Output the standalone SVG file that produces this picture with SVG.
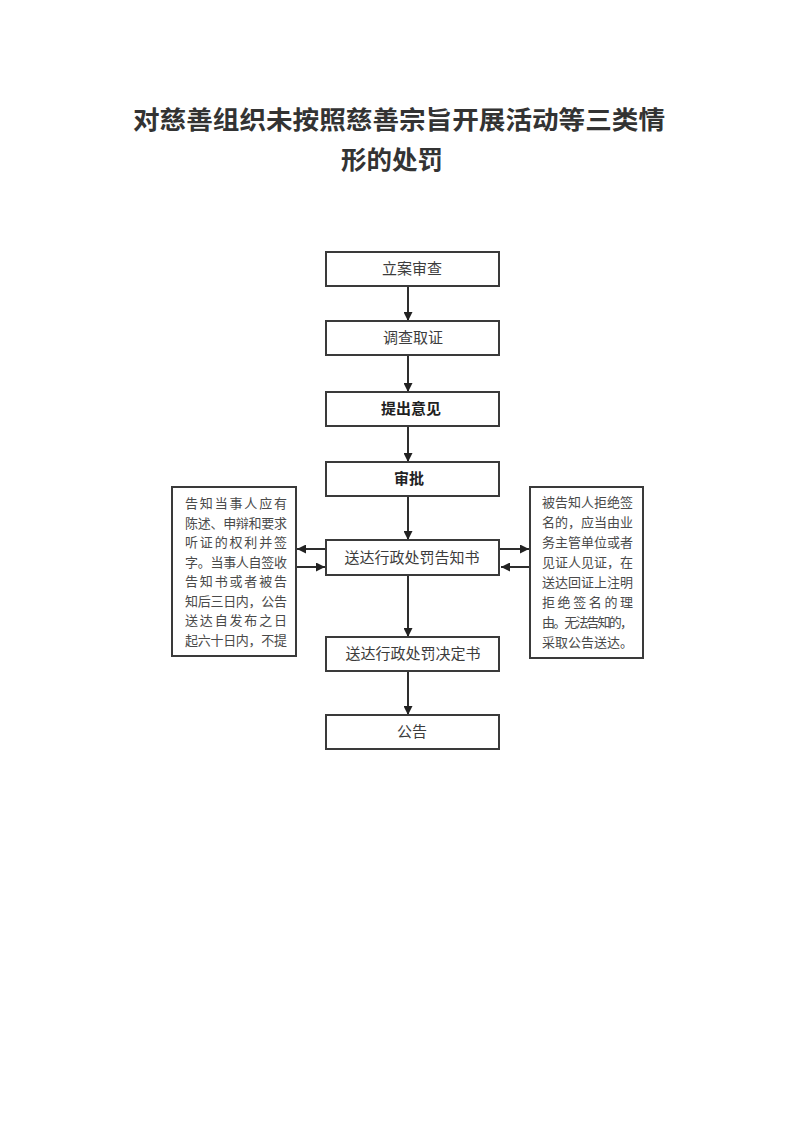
<svg xmlns="http://www.w3.org/2000/svg" width="793" height="1122" viewBox="0 0 793 1122">
<style>
.bg{fill:#ffffff}
.box{fill:#ffffff;stroke:#3a3a3a;stroke-width:2}
.ln{fill:none;stroke:#2e2e2e;stroke-width:2}
.t{font-family:"Noto Sans CJK SC","Noto Sans CJK JP",sans-serif;fill:#3c3c3c;text-anchor:middle}
.title{font-size:25.5px;font-weight:700;fill:#333333}
.m{font-size:15px}
.b{font-weight:700;fill:#222222}
.s{font-size:13px;fill:#4a4a4a}
</style>
<defs>
<marker id="ah" viewBox="0 0 10 10" refX="10" refY="5" markerWidth="9" markerHeight="9" markerUnits="userSpaceOnUse" orient="auto">
<path d="M0,0 L10,5 L0,10 z" fill="#222222"/>
</marker>
</defs>
<rect class="bg" x="0" y="0" width="793" height="1122"/>
<g id="title">
<text class="t title" x="399" y="129" textLength="532" lengthAdjust="spacingAndGlyphs">对慈善组织未按照慈善宗旨开展活动等三类情</text>
<text class="t title" x="392" y="169">形的处罚</text>
</g>
<g id="connectors">
<line class="ln" x1="408" y1="286" x2="408" y2="321" marker-end="url(#ah)"/>
<line class="ln" x1="408" y1="355" x2="408" y2="392" marker-end="url(#ah)"/>
<line class="ln" x1="408" y1="426" x2="408" y2="462" marker-end="url(#ah)"/>
<line class="ln" x1="408" y1="496" x2="408" y2="540" marker-end="url(#ah)"/>
<line class="ln" x1="408" y1="575" x2="408" y2="637" marker-end="url(#ah)"/>
<line class="ln" x1="408" y1="671" x2="408" y2="715" marker-end="url(#ah)"/>
<line class="ln" x1="326" y1="549" x2="297" y2="549" marker-end="url(#ah)"/>
<line class="ln" x1="296" y1="567" x2="325" y2="567" marker-end="url(#ah)"/>
<line class="ln" x1="500" y1="549" x2="529" y2="549" marker-end="url(#ah)"/>
<line class="ln" x1="530" y1="567" x2="501" y2="567" marker-end="url(#ah)"/>
</g>
<g id="n1">
<rect class="box" x="326" y="252" width="173" height="34"/>
<text class="t m" x="412" y="274">立案审查</text>
</g>
<g id="n2">
<rect class="box" x="326" y="321" width="173" height="34"/>
<text class="t m" x="413" y="343">调查取证</text>
</g>
<g id="n3">
<rect class="box" x="326" y="392" width="173" height="34"/>
<text class="t m b" x="411" y="414">提出意见</text>
</g>
<g id="n4">
<rect class="box" x="326" y="462" width="173" height="34"/>
<text class="t m b" x="409" y="484">审批</text>
</g>
<g id="n5">
<rect class="box" x="326" y="540" width="173" height="35"/>
<text class="t m" x="412" y="563">送达行政处罚告知书</text>
</g>
<g id="n6">
<rect class="box" x="326" y="637" width="173" height="34"/>
<text class="t m" x="413" y="659">送达行政处罚决定书</text>
</g>
<g id="n7">
<rect class="box" x="326" y="715" width="173" height="34"/>
<text class="t m" x="412" y="737">公告</text>
</g>
<g id="left-note">
<rect class="box" x="172" y="487" width="124" height="169"/>
<text class="t s" x="236" y="508" textLength="102" lengthAdjust="spacing">告知当事人应有</text>
<text class="t s" x="236" y="527.5" textLength="102" lengthAdjust="spacing">陈述、申辩和要求</text>
<text class="t s" x="236" y="547" textLength="102" lengthAdjust="spacing">听证的权利并签</text>
<text class="t s" x="236" y="566.5" textLength="102" lengthAdjust="spacing">字。当事人自签收</text>
<text class="t s" x="236" y="586" textLength="102" lengthAdjust="spacing">告知书或者被告</text>
<text class="t s" x="236" y="605.5" textLength="102" lengthAdjust="spacing">知后三日内，公告</text>
<text class="t s" x="236" y="625" textLength="102" lengthAdjust="spacing">送达自发布之日</text>
<text class="t s" x="236" y="644.5" textLength="102" lengthAdjust="spacing">起六十日内，不提</text>
</g>
<g id="right-note">
<rect class="box" x="530" y="487" width="113" height="171"/>
<text class="t s" x="587.5" y="507" textLength="91" lengthAdjust="spacing">被告知人拒绝签</text>
<text class="t s" x="587.5" y="527" textLength="91" lengthAdjust="spacing">名的，应当由业</text>
<text class="t s" x="587.5" y="547" textLength="91" lengthAdjust="spacing">务主管单位或者</text>
<text class="t s" x="587.5" y="567" textLength="91" lengthAdjust="spacing">见证人见证，在</text>
<text class="t s" x="587.5" y="587" textLength="91" lengthAdjust="spacing">送达回证上注明</text>
<text class="t s" x="587.5" y="607" textLength="91" lengthAdjust="spacing">拒绝签名的理</text>
<text class="t s" x="587.5" y="627" textLength="91" lengthAdjust="spacing">由。无法告知的，</text>
<text class="t s" x="587.5" y="647" textLength="91" lengthAdjust="spacing">采取公告送达。</text>
</g>
</svg>
